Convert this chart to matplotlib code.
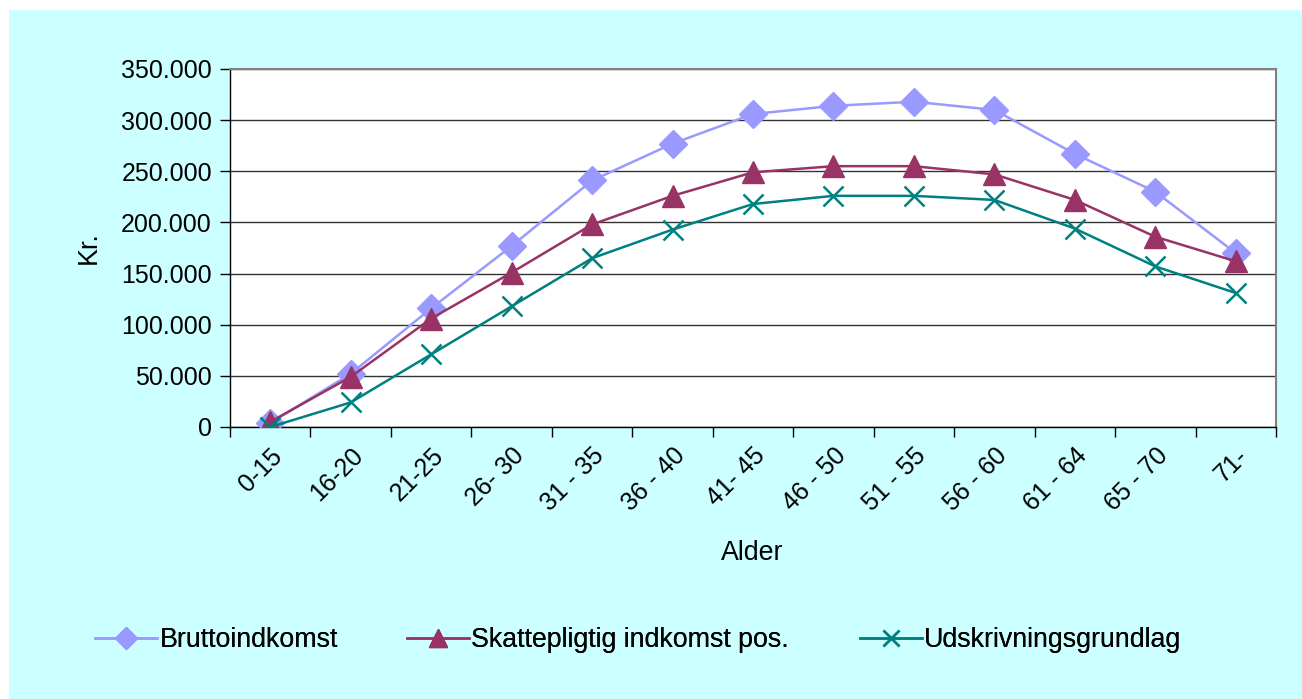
import matplotlib
matplotlib.use("Agg")
import matplotlib.pyplot as plt
from matplotlib.patches import Rectangle
from matplotlib.ticker import FuncFormatter, FixedLocator
import numpy as np

plt.rcParams['font.family'] = ['Liberation Sans', 'DejaVu Sans']

categories = ["0-15", "16-20", "21-25", "26- 30", "31 - 35", "36 - 40", "41- 45",
              "46 - 50", "51 - 55", "56 - 60", "61 - 64", "65 - 70", "71-"]
brutto = [4000, 52000, 116000, 177000, 241000, 277000, 306000, 314000, 318000, 310000, 267000, 230000, 170000]
skat = [5000, 49000, 106000, 151000, 198000, 226000, 249000, 255000, 255000, 247000, 222000, 186000, 162000]
udskr = [0, 24000, 71000, 118000, 165000, 193000, 218000, 226000, 226000, 222000, 194000, 157000, 131000]
series_names = ["Bruttoindkomst", "Skattepligtig indkomst pos.", "Udskrivningsgrundlag"]

FS = 18
FSL = 19.3
W, H = 1302, 699

fig = plt.figure(figsize=(W / 100, H / 100), dpi=100)
fig.patch.set_facecolor('white')
fig.patches.append(Rectangle((9 / W, 0), 1 - 9 / W, 1 - 10 / H, transform=fig.transFigure,
                             facecolor='#CCFFFF', edgecolor='none', zorder=-10))

ax = fig.add_axes([230 / W, (H - 427) / H, (1276 - 230) / W, (427 - 69) / H])
ax.set_facecolor('white')
x = np.arange(len(categories))

l1, = ax.plot(x, brutto, color='#9999FF', lw=1.8, marker='D', ms=14, mec='#9999FF', mfc='#9999FF',
              label=series_names[0], zorder=3)
l2, = ax.plot(x, skat, color='#993366', lw=1.8, marker='^', ms=16, mec='#993366', mfc='#993366',
              label=series_names[1], zorder=4)
l3, = ax.plot(x, udskr, color='#008080', lw=1.8, marker='x', ms=15, mew=1.8,
              label=series_names[2], zorder=5)

ax.set_xlim(-0.5, len(categories) - 0.5)
ax.set_ylim(0, 350000)
ax.set_yticks(np.arange(0, 350001, 50000))
ax.yaxis.set_major_formatter(FuncFormatter(lambda v, p: "0" if v == 0 else f"{int(v):,}".replace(",", ".")))
ax.grid(axis='y', color='#333333', lw=1)
ax.set_axisbelow(True)

ax.set_xticks(x)
ax.set_xticklabels(categories, rotation=45, ha='right', rotation_mode='anchor', fontsize=FS)
ax.xaxis.set_minor_locator(FixedLocator(np.arange(-0.5, len(categories), 1)))
ax.tick_params(axis='x', which='major', length=0, pad=12)
ax.tick_params(axis='x', which='minor', length=7, width=1, direction='out')
ax.tick_params(axis='y', length=7, width=1, direction='out', labelsize=FS, pad=6)

for s in ['left', 'bottom']:
    ax.spines[s].set_color('black')
    ax.spines[s].set_linewidth(1)
for s in ['top', 'right']:
    ax.spines[s].set_color('#808080')
    ax.spines[s].set_linewidth(1.5)

fig.text(89 / W, 1 - 248 / H, "Kr.", fontsize=FSL, rotation=90, ha='center', va='center')
fig.text(752 / W, 1 - 553 / H, "Alder", fontsize=FSL, ha='center', va='center')

handles = [l1, l2, l3]
xs = [95, 407, 860]
for h, name, xp in zip(handles, series_names, xs):
    leg = fig.legend(handles=[h], labels=[name], loc='center left',
                     bbox_to_anchor=(xp / W, 1 - 640 / H), frameon=False, fontsize=FSL,
                     handlelength=2.3, handletextpad=0.1, borderpad=0, borderaxespad=0,
                     markerscale=0.8)
    fig.add_artist(leg)

fig.savefig("out.png", dpi=100, facecolor=fig.get_facecolor())
